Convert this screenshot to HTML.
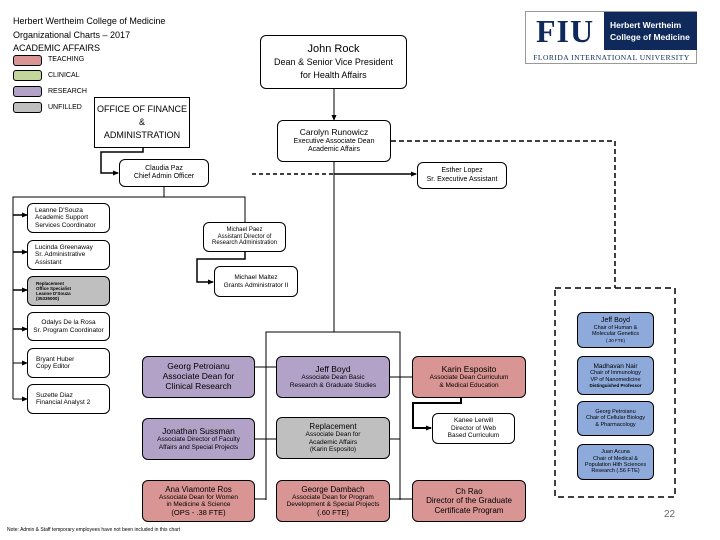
<!DOCTYPE html>
<html><head><meta charset="utf-8"><style>
body{margin:0;width:720px;height:540px;position:relative;background:#fff;font-family:"Liberation Sans",sans-serif;color:#000;overflow:hidden}
.b{position:absolute;box-sizing:border-box;border:1px solid #000;border-radius:6px;display:flex;flex-direction:column;justify-content:center;align-items:center;text-align:center;line-height:1.15;background:#fff}
.t{position:absolute;white-space:nowrap}
.pk{background:#d99594}.pu{background:#b3a2c7}.gr{background:#bfbfbf}.bl{background:#8eaadb}
svg{position:absolute;left:0;top:0}
</style></head><body>
<svg width="720" height="540">
<defs><marker id="a" markerUnits="userSpaceOnUse" markerWidth="6" markerHeight="6" refX="5" refY="3" orient="auto"><path d="M0,0.5L6,3L0,5.5z" fill="#000"/></marker></defs>
<g stroke="#000" fill="none" stroke-width="1">
<line x1="334" y1="89" x2="334" y2="120" marker-end="url(#a)"/>
<polyline points="391,141 615,141 615,288" stroke-dasharray="5,3" stroke-width="1.5"/>
<rect x="555" y="288" width="120" height="209" stroke-dasharray="6,4" stroke-width="1.5"/>
<line x1="252" y1="174" x2="334" y2="174" stroke-dasharray="4,3" stroke-width="1.5"/>
<line x1="334" y1="174" x2="416" y2="174" stroke-width="1.5" marker-end="url(#a)"/>
<polyline points="143,148 143,152 101,152 101,173 118,173" stroke-width="1.5" marker-end="url(#a)"/>
<polyline points="164,187 164,197"/>
<polyline points="13,399 13,197 245,197 245,222"/>
<line x1="13" y1="215" x2="27" y2="215" stroke-width="1.5" marker-end="url(#a)"/>
<line x1="13" y1="252" x2="27" y2="252" stroke-width="1.5" marker-end="url(#a)"/>
<line x1="13" y1="290" x2="27" y2="290" stroke-width="1.5" marker-end="url(#a)"/>
<line x1="13" y1="329" x2="27" y2="329" stroke-width="1.5" marker-end="url(#a)"/>
<line x1="13" y1="363" x2="27" y2="363" marker-end="url(#a)"/>
<line x1="13" y1="399" x2="27" y2="399" marker-end="url(#a)"/>
<polyline points="245,252 245,259 197,259 197,282 213,282" stroke-width="1.5" marker-end="url(#a)"/>
<line x1="334" y1="162" x2="334" y2="332"/>
<polyline points="266,500 266,332 400,332 400,500"/>
<line x1="255" y1="367" x2="276" y2="367"/>
<line x1="390" y1="377" x2="412" y2="377"/>
<line x1="255" y1="439" x2="276" y2="439"/>
<line x1="390" y1="439" x2="400" y2="439"/>
<line x1="255" y1="499" x2="266" y2="499"/>
<line x1="390" y1="499" x2="412" y2="499"/>
<polyline points="461,398 461,403 413,403 413,428 431,428" stroke-width="2" marker-end="url(#a)"/>
</g></svg>

<div class="t" style="left:13px;top:15px;font-size:9px;line-height:13.5px">Herbert Wertheim College of Medicine<br>Organizational Charts – 2017<br>ACADEMIC AFFAIRS</div>
<div class="b pk" style="left:13px;top:55px;width:29px;height:11px;border-radius:3px"></div>
<div class="b" style="left:13px;top:70px;width:29px;height:11px;border-radius:3px;background:#c3d69b"></div>
<div class="b pu" style="left:13px;top:86px;width:29px;height:11px;border-radius:3px"></div>
<div class="b gr" style="left:13px;top:102px;width:29px;height:11px;border-radius:3px"></div>
<div class="t" style="left:48px;top:56px;font-size:7px">TEACHING</div>
<div class="t" style="left:48px;top:72px;font-size:7px">CLINICAL</div>
<div class="t" style="left:48px;top:88px;font-size:7px">RESEARCH</div>
<div class="t" style="left:48px;top:104px;font-size:7px">UNFILLED</div>

<div class="b" style="left:94px;top:97px;width:96px;height:51px;border-radius:0;font-size:9px;line-height:13px;white-space:nowrap">OFFICE OF FINANCE<br>&amp;<br>ADMINISTRATION</div>
<div class="b" style="left:260px;top:35px;width:147px;height:54px;font-size:9px;line-height:13px"><span style="font-size:11px">John Rock</span>Dean &amp; Senior Vice President<br>for Health Affairs</div>
<div class="b" style="left:277px;top:120px;width:114px;height:42px;font-size:7px"><span style="font-size:8.5px">Carolyn Runowicz</span>Executive Associate Dean<br>Academic Affairs</div>
<div class="b" style="left:119px;top:159px;width:90px;height:28px;font-size:7px">Claudia Paz<br>Chief Admin Officer</div>
<div class="b" style="left:417px;top:162px;width:90px;height:27px;font-size:7px">Esther Lopez<br>Sr. Executive Assistant</div>

<div class="b" style="left:27px;top:203px;width:83px;height:30px;font-size:6.5px;align-items:flex-start;padding-left:7px;text-align:left">Leanne D'Souza<br>Academic Support<br>Services Coordinator</div>
<div class="b" style="left:27px;top:240px;width:83px;height:30px;font-size:6.5px;align-items:flex-start;padding-left:7px;text-align:left">Lucinda Greenaway<br>Sr. Administrative<br>Assistant</div>
<div class="b gr" style="left:27px;top:276px;width:83px;height:30px;font-size:4.5px;align-items:flex-start;padding-left:8px;text-align:left;font-weight:bold">Replacement<br>Office Specialist<br>Leanne D'Souza<br>(35335000)</div>
<div class="b" style="left:27px;top:312px;width:83px;height:29px;font-size:6.5px">Odalys De la Rosa<br>Sr. Program Coordinator</div>
<div class="b" style="left:27px;top:348px;width:83px;height:30px;font-size:6.5px;align-items:flex-start;padding-left:8px;text-align:left">Bryant Huber<br>Copy Editor</div>
<div class="b" style="left:27px;top:384px;width:83px;height:30px;font-size:6.5px;align-items:flex-start;padding-left:8px;text-align:left">Suzette Diaz<br>Financial Analyst 2</div>

<div class="b" style="left:203px;top:222px;width:83px;height:30px;font-size:6px">Michael Paez<br>Assistant Director of<br>Research Administration</div>
<div class="b" style="left:214px;top:266px;width:84px;height:31px;font-size:6.5px">Michael Maltez<br>Grants Administrator II</div>

<div class="b pu" style="left:142px;top:356px;width:113px;height:42px;font-size:8.5px">Georg Petroianu<br>Associate Dean for<br>Clinical Research</div>
<div class="b pu" style="left:142px;top:418px;width:113px;height:42px;font-size:6.5px"><span style="font-size:8.5px">Jonathan Sussman</span>Associate Director of Faculty<br>Affairs and Special Projects</div>
<div class="b pk" style="left:142px;top:480px;width:113px;height:42px;font-size:6.5px"><span style="font-size:8px">Ana Viamonte Ros</span>Associate Dean for Women<br>in Medicine &amp; Science<br><span style="font-size:7.5px">(OPS - .38 FTE)</span></div>
<div class="b pu" style="left:276px;top:356px;width:114px;height:42px;font-size:6.5px"><span style="font-size:8.5px">Jeff Boyd</span>Associate Dean Basic<br>Research &amp; Graduate Studies</div>
<div class="b gr" style="left:276px;top:417px;width:114px;height:42px;font-size:6.5px"><span style="font-size:8px">Replacement</span>Associate Dean for<br>Academic Affairs<br>(Karin Esposito)</div>
<div class="b pk" style="left:276px;top:480px;width:114px;height:42px;font-size:6.5px"><span style="font-size:8px">George Dambach</span>Associate Dean for Program<br>Development &amp; Special Projects<br><span style="font-size:7.5px">(.60 FTE)</span></div>
<div class="b pk" style="left:412px;top:356px;width:114px;height:42px;font-size:6.5px"><span style="font-size:8.5px">Karin Esposito</span>Associate Dean Curriculum<br>&amp; Medical Education</div>
<div class="b" style="left:432px;top:413px;width:83px;height:31px;font-size:6.5px">Kanee Lerwill<br>Director of Web<br>Based Curriculum</div>
<div class="b pk" style="left:412px;top:480px;width:114px;height:42px;font-size:8px">Ch Rao<br>Director of the Graduate<br>Certificate Program</div>

<div class="b bl" style="left:577px;top:312px;width:77px;height:36px;font-size:5.5px"><span style="font-size:7px">Jeff Boyd</span>Chair of Human &amp;<br>Molecular Genetics<br><span style="font-size:4.5px">(.30 FTE)</span></div>
<div class="b bl" style="left:577px;top:356px;width:77px;height:39px;font-size:5.5px"><span style="font-size:6.5px">Madhavan Nair</span>Chair of Immunology<br>VP of Nanomedicine<br><span style="font-size:4.5px;font-weight:bold">Distinguished Professor</span></div>
<div class="b bl" style="left:577px;top:401px;width:77px;height:35px;font-size:5.5px">Georg Petroianu<br>Chair of Cellular Biology<br>&amp; Pharmacology</div>
<div class="b bl" style="left:577px;top:444px;width:77px;height:36px;font-size:5.5px">Juan Acuna<br>Chair of Medical &amp;<br>Population Hlth Sciences<br>Research (.56 FTE)</div>

<div class="t" style="left:664px;top:509px;font-size:10px;color:#666">22</div>
<div class="t" style="left:7px;top:527px;font-size:5px">Note: Admin &amp; Staff temporary employees have not been included in this chart</div>

<div style="position:absolute;left:525px;top:11px;width:172px;height:53px;border:1px solid #999;box-sizing:border-box;background:#fff">
<div style="position:absolute;left:0;top:0;width:78px;height:38px;display:flex;align-items:center;justify-content:center;font-family:'Liberation Serif',serif;font-weight:bold;font-size:32px;color:#0f2a5a;letter-spacing:1px">FIU</div>
<div style="position:absolute;left:78px;top:0;width:93px;height:38px;background:#0f2a5a;color:#fff;font-weight:bold;font-size:8.5px;line-height:12px;display:flex;flex-direction:column;justify-content:center;padding-left:6px;box-sizing:border-box">Herbert Wertheim<br>College of Medicine</div>
<div style="position:absolute;left:0;top:39px;width:171px;height:13px;font-family:'Liberation Serif',serif;font-size:7.5px;color:#0f2a5a;text-align:center;line-height:13px;letter-spacing:0.5px">FLORIDA INTERNATIONAL UNIVERSITY</div>
</div>
</body></html>
